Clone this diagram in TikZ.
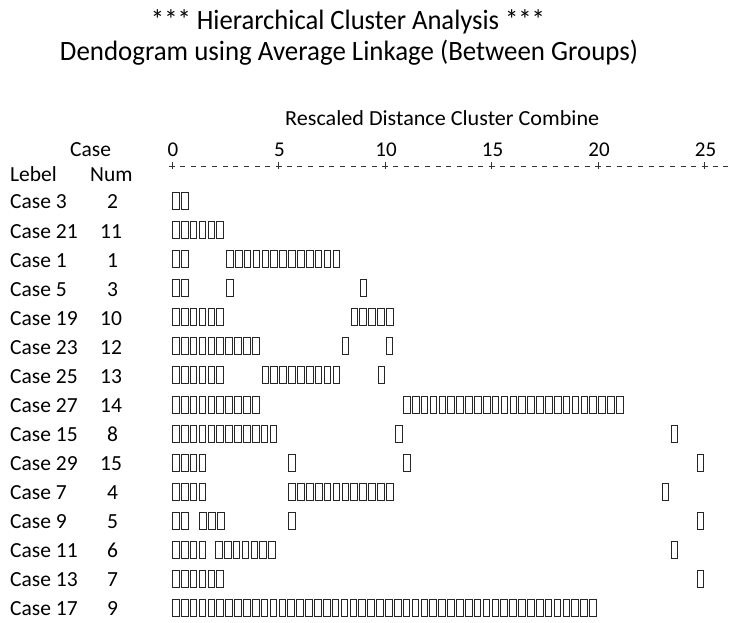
\documentclass[tikz,border=0pt]{standalone}
\usepackage{fontspec}
\setmainfont{Carlito}
\usepackage{graphicx}
\newcommand{\fitw}[2]{\resizebox{#1}{\height}{#2}}
\begin{document}
\begin{tikzpicture}[x=1pt,y=-1pt,
  lbl/.style={anchor=base west, inner sep=0pt, font=\fontsize{21.5}{24}\selectfont},
  axn/.style={anchor=base, inner sep=0pt, font=\fontsize{21}{24}\selectfont},
  ttl/.style={anchor=base, inner sep=0pt, font=\fontsize{28}{30}\selectfont},
  tofu/.style={draw=black!85, line width=0.9pt},
  axl/.style={draw=black!80, line width=0.9pt}]
\useasboundingbox (0,0) rectangle (732,623);
% titles
\node[ttl] (t1) at (348,30) {\fitw{394pt}{*** Hierarchical Cluster Analysis ***}};
\node[ttl] (t2) at (349,61) {\fitw{578pt}{Dendogram using Average Linkage (Between Groups)}};
\node[lbl] (rdc) at (285,126) {\fitw{314pt}{Rescaled Distance Cluster Combine}};
% headers
\node[lbl] (hcase) at (70,157) {Case};
\node[lbl] (hlab) at (10,182) {Lebel};
\node[lbl] (hnum) at (90,182) {Num};
% axis numbers
\foreach \v [count=\j from 0] in {0,5,10,15,20,25}
  \node[axn] (ax\v) at ({173+\j*106.5},157) {\v};
% axis ticks and dashes
\foreach \j in {0,...,5} {
  \draw[axl] ({172+\j*106.5},162.5) -- ({172+\j*106.5},169.5);
  \draw[axl] ({172+\j*106.5-3},166) -- ({172+\j*106.5+3},166);
}
\foreach \j in {0,...,4} \foreach \k in {1,...,9}
  \draw[axl] ({172+\j*106.5+\k*10.65-2.5},166) -- ({172+\j*106.5+\k*10.65+2.5},166);
\foreach \k in {1,2}
  \draw[axl] ({704.5+\k*10.65-2.5},166) -- ({704.5+\k*10.65+2.5},166);
% row labels
\foreach \lab/\num/\nx [count=\i from 0] in {Case 3/2/107, Case 21/11/100, Case 1/1/107, Case 5/3/107,
  Case 19/10/100, Case 23/12/100, Case 25/13/100, Case 27/14/100, Case 15/8/107, Case 29/15/100,
  Case 7/4/107, Case 9/5/107, Case 11/6/107, Case 13/7/107, Case 17/9/107} {
  \node[lbl] (lab\i) at (10,{209+\i*29.07}) {\lab};
  \node[lbl] (num\i) at (\nx,{209+\i*29.07}) {\num};
}
% tofu boxes: row / start x / count
\foreach \r/\x/\n in {0/172/2, 1/172/6,
  2/172/2, 2/226/13,
  3/172/2, 3/226/1, 3/359.5/1,
  4/172/6, 4/350.5/5,
  5/172/10, 5/341.5/1, 5/385.7/1,
  6/172/6, 6/261.5/9, 6/377.5/1,
  7/172/10, 7/403/25,
  8/172/12, 8/395/1, 8/670.7/1,
  9/172/4, 9/288.3/1, 9/403.3/1, 9/696.7/1,
  10/172/4, 10/288.3/12, 10/661.7/1,
  11/172/2, 11/199.3/3, 11/288.3/1, 11/696.7/1,
  12/172/4, 12/215/7, 12/670.5/1,
  13/172/6, 13/696.7/1,
  14/172/48}
  \foreach \k in {1,...,\n}
    \draw[tofu] ({\x+(\k-1)*8.875+0.5},{201+\r*29.07-8.5}) rectangle ++(6.6,17);
\end{tikzpicture}
\end{document}
